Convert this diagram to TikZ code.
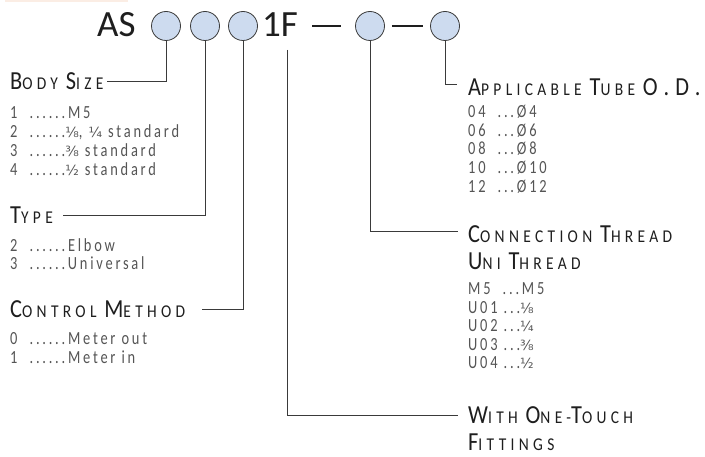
\documentclass[tikz,border=0pt]{standalone}
\usepackage{fontspec}
\usepackage{xcolor}
\usepackage{tikz}
\usetikzlibrary{positioning,calc}
\setmainfont{Carlito}
\newfontfamily\hdrfont[FakeStretch=0.86,LetterSpace=24]{Carlito}
\newfontfamily\itmfont[FakeStretch=0.78,LetterSpace=15]{Carlito}
\newfontfamily\fracfont{DejaVu Sans}
\definecolor{codeblue}{HTML}{CDDBEF}
\definecolor{codeink}{HTML}{1E1E1E}
\definecolor{codegray}{HTML}{555555}
\definecolor{codeline}{HTML}{3A3A3A}
\definecolor{codepeach}{HTML}{FBEDE4}
% fake small caps: big initial, smaller rest
\newcommand{\scw}[2]{{\fontsize{26}{26}\selectfont #1}{\fontsize{18}{18}\selectfont #2}}
\newcommand{\fr}[1]{{\fracfont\fontsize{14}{14}\selectfont #1}}

\begin{document}
\begin{tikzpicture}[x=1pt,y=-1pt,
    slot/.style={circle, draw=codeline, line width=0.8pt, fill=codeblue,
      minimum size=29pt, inner sep=0pt},
    title/.style={font=\fontsize{37}{37}\selectfont, text=codeink,
      inner sep=0pt, anchor=base west},
    head/.style={font=\hdrfont\fontsize{18}{18}\selectfont, text=codeink,
      inner sep=0pt, anchor=base west},
    item/.style={font=\itmfont\fontsize{18.5}{18.5}\selectfont, text=codegray,
      inner sep=0pt, anchor=base west},
    lead/.style={draw=codeline, line width=0.7pt},
    bar/.style={draw=codeink, line width=2.6pt}]
  \useasboundingbox[fill=white] (0,0) rectangle (705,457);
  \fill[codepeach] (5,0) rectangle (128,2.5);

  % model code
  \node[title] (as) at (97,37) {AS};
  \node[slot] (c1) at (166,26) {};
  \node[slot] (c2) at (205,26) {};
  \node[slot] (c3) at (243,26) {};
  \node[title] (onef) at (262,37) {1F};
  \node[slot] (c4) at (370,26) {};
  \node[slot] (c5) at (445,26) {};
  \draw[bar] ([xshift=14pt]onef.east |- c4) -- ([xshift=-14pt]c4.west);
  \draw[bar] ([xshift=7pt]c4.east) -- ([xshift=-7pt]c5.west);
  \coordinate (fstem) at (287,50);

  % left column
  \node[head] (size) at (10,90) {\scw{B}{ODY} \scw{S}{IZE}};
  \node[item] (s1) at (10,119) {1 \ ......M5};
  \node[item] (s2) at (10,138) {2 \ ......\fr{⅛}, \fr{¼} standard};
  \node[item] (s3) at (10,157) {3 \ ......\fr{⅜} standard};
  \node[item] (s4) at (10,176) {4 \ ......\fr{½} standard};

  \node[head] (type) at (10,224) {\scw{T}{YPE}};
  \node[item] (t2) at (10,251.5) {2 \ ......Elbow};
  \node[item] (t3) at (10,270) {3 \ ......Universal};

  \node[head] (ctrl) at (10,318) {\scw{C}{ONTROL} \scw{M}{ETHOD}};
  \node[item] (m0) at (10,344.5) {0 \ ......Meter out};
  \node[item] (m1) at (10,363) {1 \ ......Meter in};

  % right column
  \node[head] (tube) at (468,96) {\scw{A}{PPLICABLE} \scw{T}{UBE} \scw{O.D.}{}};
  \node[item] (d04) at (468,118) {04 \ ...Ø4};
  \node[item] (d06) at (468,136.5) {06 \ ...Ø6};
  \node[item] (d08) at (468,155) {08 \ ...Ø8};
  \node[item] (d10) at (468,174) {10 \ ...Ø10};
  \node[item] (d12) at (468,193) {12 \ ...Ø12};

  \node[head] (conn) at (468,243) {\scw{C}{ONNECTION} \scw{T}{HREAD}};
  \node[head] (uni) at (468,270) {\scw{U}{NI} \scw{T}{HREAD}};
  \node[item] (u00) at (468,295) {M5 \ ...M5};
  \node[item] (u01) at (468,313.5) {U01 ...\fr{⅛}};
  \node[item] (u02) at (468,332) {U02 ...\fr{¼}};
  \node[item] (u03) at (468,350.5) {U03 ...\fr{⅜}};
  \node[item] (u04) at (468,369) {U04 ...\fr{½}};

  \node[head] (touch) at (468,424) {\scw{W}{ITH} \scw{O}{NE}-\scw{T}{OUCH}};
  \node[head] (fit) at (468,450) {\scw{F}{ITTINGS}};

  % leader lines
  \draw[lead] (c1.south) |- ([xshift=3pt]size.east);
  \draw[lead] (c2.south) |- ([xshift=10pt]type.east);
  \draw[lead] (c3.south) |- ([xshift=17pt]ctrl.east);
  \draw[lead] (fstem) |- ([xshift=-10pt]touch.west);
  \draw[lead] (c4.south) |- ([xshift=-10pt,yshift=3pt]conn.west);
  \draw[lead] (c5.south) |- ([xshift=-11pt,yshift=3pt]tube.west);
\end{tikzpicture}
\end{document}
